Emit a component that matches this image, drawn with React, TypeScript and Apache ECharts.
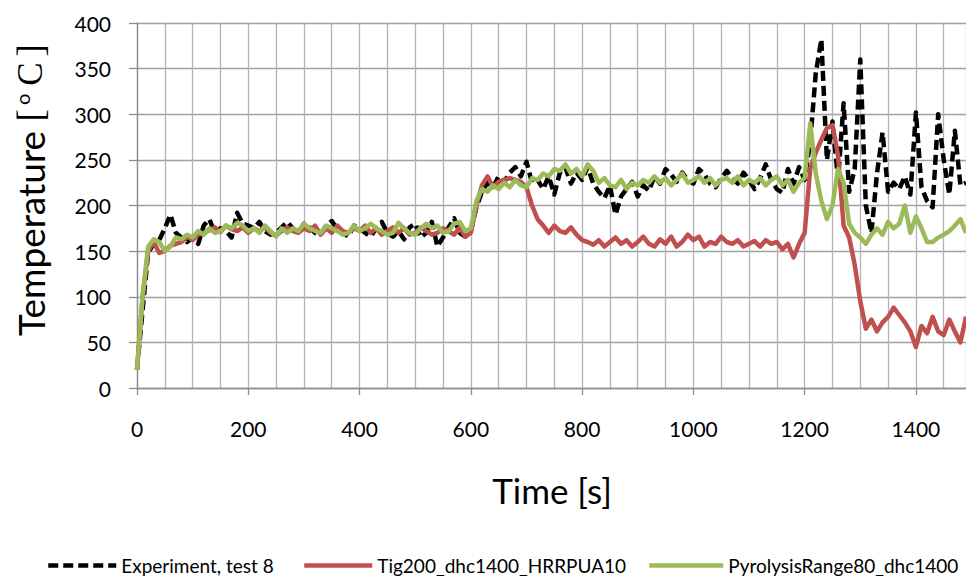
import React, { useEffect, useRef } from "react";
import * as echarts from "echarts";

const timeS = [
  0, 10, 20, 30, 40, 50, 60, 70, 80, 90,
  100, 110, 120, 130, 140, 150, 160, 170, 180, 190,
  200, 210, 220, 230, 240, 250, 260, 270, 280, 290,
  300, 310, 320, 330, 340, 350, 360, 370, 380, 390,
  400, 410, 420, 430, 440, 450, 460, 470, 480, 490,
  500, 510, 520, 530, 540, 550, 560, 570, 580, 590,
  600, 610, 620, 630, 640, 650, 660, 670, 680, 690,
  700, 710, 720, 730, 740, 750, 760, 770, 780, 790,
  800, 810, 820, 830, 840, 850, 860, 870, 880, 890,
  900, 910, 920, 930, 940, 950, 960, 970, 980, 990,
  1000, 1010, 1020, 1030, 1040, 1050, 1060, 1070, 1080, 1090,
  1100, 1110, 1120, 1130, 1140, 1150, 1160, 1170, 1180, 1190,
  1200, 1210, 1220, 1230, 1240, 1250, 1260, 1270, 1280, 1290,
  1300, 1310, 1320, 1330, 1340, 1350, 1360, 1370, 1380, 1390,
  1400, 1410, 1420, 1430, 1440, 1450, 1460, 1470, 1480, 1490,
];

const experiment = [
  20, 85, 148, 158, 162, 175, 190, 170, 165, 160,
  165, 158, 178, 185, 170, 175, 172, 165, 192, 180,
  178, 175, 182, 172, 168, 170, 176, 182, 175, 170,
  180, 176, 170, 168, 178, 183, 174, 170, 166, 178,
  175, 170, 166, 175, 182, 170, 166, 172, 163, 176,
  180, 165, 170, 182, 155, 165, 176, 186, 170, 166,
  172, 198, 215, 225, 220, 232, 226, 236, 242, 232,
  248, 225, 228, 218, 232, 212, 236, 242, 224, 236,
  228, 242, 224, 215, 208, 222, 190, 210, 218, 226,
  210, 222, 216, 232, 224, 240, 234, 226, 236, 228,
  224, 240, 234, 224, 220, 230, 238, 230, 224, 236,
  228, 218, 230, 245, 228, 218, 214, 240, 224, 242,
  228, 270, 345, 382, 250, 292, 228, 312, 215, 240,
  360, 200, 170, 235, 280, 215, 225, 218, 232, 212,
  302, 220, 205, 198, 300, 250, 212, 282, 222, 225,
];

const tig200 = [
  20, 100, 150, 160, 148, 150, 156, 158, 160, 166,
  162, 168, 170, 173, 176, 171, 178, 174, 172, 176,
  170, 175, 172, 176, 170, 167, 172, 176, 172, 170,
  175, 172, 178, 168, 175, 170, 178, 172, 170, 175,
  172, 178, 170, 175, 168, 172, 176, 170, 175, 168,
  170, 176, 172, 168, 170, 175, 172, 168, 176, 166,
  170, 200, 222, 232, 220, 226, 228, 230, 228, 226,
  220, 200, 185, 178, 170, 178, 172, 170, 176, 168,
  162, 160, 157, 162, 155, 160, 165, 158, 162, 155,
  160, 166, 158, 155, 163, 158, 166, 155, 160, 168,
  162, 166, 155, 160, 158, 166, 160, 158, 162, 155,
  158, 161, 155, 162, 158, 160, 152, 158, 143, 158,
  170, 240, 258, 272, 285, 288, 255, 178, 165, 135,
  95, 65, 75, 62, 72, 78, 88, 80, 72, 62,
  45, 68, 60, 78, 62, 58, 75, 62, 50, 78,
];

const pyrolysis = [
  20, 100, 155, 163, 160, 150, 155, 165, 163, 168,
  165, 172, 168, 175, 170, 172, 178, 175, 181, 178,
  172, 175, 170, 178, 172, 166, 175, 170, 175, 172,
  180, 175, 172, 170, 178, 175, 172, 168, 170, 178,
  172, 175, 180, 175, 172, 168, 170, 181, 175, 170,
  168, 175, 180, 175, 178, 170, 172, 180, 182, 172,
  175, 205, 218, 215, 222, 218, 225, 220, 228, 222,
  220, 230, 228, 235, 232, 240, 238, 245, 235, 240,
  232, 245, 238, 225, 230, 222, 220, 228, 218, 225,
  222, 228, 225, 232, 225, 230, 222, 228, 235, 225,
  228, 232, 225, 230, 222, 228, 230, 225, 232, 222,
  228, 225, 230, 222, 228, 232, 222, 228, 215, 225,
  230, 290, 235, 205, 185, 200, 240, 225, 180, 170,
  165, 158, 168, 175, 168, 182, 175, 180, 200, 170,
  188, 175, 160, 160, 165, 168, 172, 178, 185, 170,
];

const seriesNames = [
  "Experiment, test 8",
  "Tig200_dhc1400_HRRPUA10",
  "PyrolysisRange80_dhc1400",
];
const seriesColors = ["#000000", "#c0504d", "#9bbb59"];
const seriesValues = [experiment, tig200, pyrolysis];

const FONT = "Lato, 'Noto Sans', sans-serif";

export default function App() {
  const ref = useRef<HTMLDivElement>(null);

  useEffect(() => {
    if (!ref.current) return;
    const chart = echarts.init(ref.current, null, { renderer: "svg" });

    const series = seriesValues.map((vals, i) => ({
      name: seriesNames[i],
      type: "line",
      xAxisIndex: 0,
      yAxisIndex: 0,
      symbol: "none",
      data: timeS.map((t, j) => [t, vals[j]]),
      lineStyle: {
        color: seriesColors[i],
        width: 4.5,
        type: i === 0 ? [10, 5] : "solid",
        cap: "butt",
        join: "round",
      },
      itemStyle: { color: seriesColors[i] },
      z: 2 + i,
    }));

    const legendLefts = [41, 297, 642];
    const legendWidths = [68, 68, 74];

    chart.setOption({
      animation: false,
      backgroundColor: "#ffffff",
      grid: { left: 137, right: 0, top: 23, bottom: 188, containLabel: false },
      xAxis: [
        {
          type: "value",
          min: 0,
          max: 1490,
          interval: 200,
          axisLine: { show: true, lineStyle: { color: "#8c8c8c", width: 1.3 } },
          axisTick: { show: true, length: 7, lineStyle: { color: "#8c8c8c", width: 1.3 } },
          splitLine: { show: false },
          axisLabel: {
            fontSize: 21,
            color: "#000",
            fontFamily: FONT,
            margin: 30,
            showMaxLabel: false,
            formatter: (v: number) => (v % 200 === 0 ? String(v) : ""),
          },
        },
        {
          type: "value",
          min: 0,
          max: 1490,
          interval: 50,
          axisLine: { show: false },
          axisTick: { show: false },
          axisLabel: { show: false },
          splitLine: { show: true, lineStyle: { color: "#b3b3b3", width: 1.3 } },
        },
      ],
      yAxis: {
        type: "value",
        min: 0,
        max: 400,
        interval: 50,
        axisLine: { show: true, lineStyle: { color: "#8c8c8c", width: 1.3 } },
        axisTick: { show: true, length: 8, lineStyle: { color: "#8c8c8c", width: 1.3 } },
        splitLine: { show: true, lineStyle: { color: "#a0a0a0", width: 1.4 } },
        axisLabel: { fontSize: 21, color: "#000", fontFamily: FONT, margin: 26 },
      },
      legend: seriesNames.map((n, i) => ({
        data: [n],
        left: legendLefts[i],
        top: 551,
        itemWidth: legendWidths[i],
        itemHeight: 14,
        itemGap: 10,
        itemStyle: { color: "transparent", borderWidth: 0, opacity: 0 },
        lineStyle: { width: 4.5 },
        textStyle: { fontSize: 19, color: "#000", fontFamily: FONT },
      })),
      graphic: [
        {
          type: "text",
          x: 30,
          y: 190,
          rotation: Math.PI / 2,
          style: {
            text: "{a|Temperature }{b|[}{s|o}{c|C}{b|]}",
            align: "center",
            verticalAlign: "middle",
            rich: {
              a: { fontSize: 37, fontFamily: FONT, fill: "#000" },
              b: { fontSize: 37, fontFamily: "'Liberation Serif', serif", fill: "#000" },
              s: { fontSize: 20, fontFamily: FONT, fill: "#000", padding: [0, 8, 16, 4] },
              c: { fontSize: 35, fontFamily: "'Liberation Serif', serif", fill: "#000", padding: [0, 6, 0, 0] },
            },
          },
        },
        {
          type: "text",
          x: 552,
          y: 490,
          style: {
            text: "Time [s]",
            fontSize: 35,
            fontFamily: FONT,
            fill: "#000",
            align: "center",
            verticalAlign: "middle",
          },
        },
      ],
      series,
    });

    return () => chart.dispose();
  }, []);

  return (
    <div
      ref={ref}
      style={{ position: "absolute", left: 0, top: 0, width: 966, height: 576, background: "#fff" }}
    />
  );
}
